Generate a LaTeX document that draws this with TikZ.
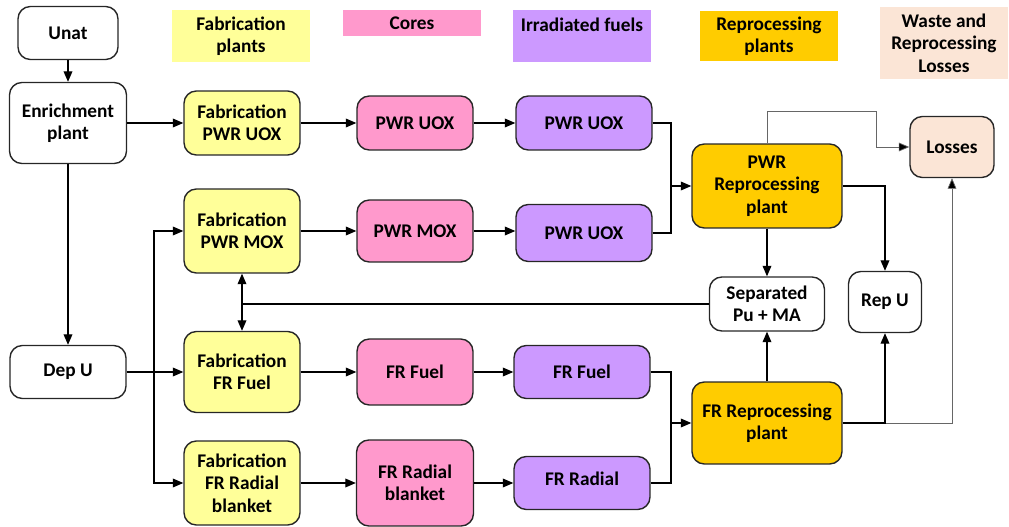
\documentclass[tikz,border=0pt]{standalone}
\usepackage{fontspec}
\setmainfont{Carlito}
\usetikzlibrary{arrows.meta}

\definecolor{fabyellow}{HTML}{FFFF99}
\definecolor{corepink}{HTML}{FF99CC}
\definecolor{irrpurple}{HTML}{CC99FF}
\definecolor{repgold}{HTML}{FFCC00}
\definecolor{losspeach}{HTML}{FBE5D6}

\tikzset{
	box/.style={draw=black!85, line width=0.8pt, rounded corners=7pt, align=center, font=\fontsize{11}{12.8}\selectfont\bfseries, inner sep=2pt},
	head/.style={align=center, font=\fontsize{11}{12.8}\selectfont\bfseries, inner sep=2pt},
	flow/.style={line width=0.7pt, -{Triangle[length=6pt,width=5pt]}},
	thinflow/.style={line width=0.4pt, draw=black!60, -{Triangle[length=6pt,width=5pt,fill=black]}}
}

\begin{document}
\begin{tikzpicture}[x=0.02cm, y=-0.02cm]
	
	\useasboundingbox (0,0) rectangle (1009,527);
	
	% column headers
	\node [head, fill=fabyellow, minimum width=2.78cm, minimum height=1.04cm] (hfab) at (241,36) {Fabrication\\plants};
	
	\node [head, fill=corepink, minimum width=2.76cm, minimum height=0.52cm] (hcore) at (412,23) {Cores};
	
	\node [head, fill=irrpurple, minimum width=2.76cm, minimum height=1.04cm] (hirr) at (582,36) {Irradiated fuels\\\mbox{}};
	
	\node [head, fill=repgold, minimum width=2.76cm, minimum height=1.02cm] (hrep) at (769,36) {Reprocessing\\plants};
	
	\node [head, fill=losspeach, minimum width=2.58cm, minimum height=1.46cm] (hloss) at (944,43) {Waste and\\Reprocessing\\Losses};
	
	% uranium supply
	\node [box, minimum width=2cm, minimum height=1.06cm] (unat) at (68,33) {Unat};
	
	\node [box, minimum width=2.34cm, minimum height=1.62cm] (enrich) at (68,123) {Enrichment\\plant};
	
	\node [box, minimum width=2.32cm, minimum height=1.06cm] (depu) at (68,372) {Dep U};
	
	% fabrication
	\node [box, fill=fabyellow, minimum width=2.32cm, minimum height=1.28cm] (fabuox) at (242,123) {Fabrication\\PWR UOX};
	
	\node [box, fill=fabyellow, minimum width=2.32cm, minimum height=1.68cm] (fabmox) at (242,231) {Fabrication\\PWR MOX};
	
	\node [box, fill=fabyellow, minimum width=2.32cm, minimum height=1.62cm] (fabfr) at (242,372) {Fabrication\\FR Fuel};
	
	\node [box, fill=fabyellow, minimum width=2.32cm, minimum height=1.68cm] (fabrad) at (242,483) {Fabrication\\FR Radial\\blanket};
	
	% cores
	\node [box, fill=corepink, minimum width=2.32cm, minimum height=1.08cm] (coreuox) at (415,123) {PWR UOX};
	
	\node [box, fill=corepink, minimum width=2.32cm, minimum height=1.24cm] (coremox) at (415,231) {PWR MOX};
	
	\node [box, fill=corepink, minimum width=2.32cm, minimum height=1.32cm] (corefr) at (415,372) {FR Fuel};
	
	\node [box, fill=corepink, minimum width=2.34cm, minimum height=1.72cm] (corerad) at (415,483) {FR Radial\\blanket};
	
	% irradiated fuels
	\node [box, fill=irrpurple, minimum width=2.72cm, minimum height=1.08cm] (irruox) at (584,123) {PWR UOX};
	
	\node [box, fill=irrpurple, minimum width=2.72cm, minimum height=1.14cm] (irrmox) at (584,233) {PWR UOX};
	
	\node [box, fill=irrpurple, minimum width=2.72cm, minimum height=1.06cm] (irrfr) at (582,372) {FR Fuel};
	
	\node [box, fill=irrpurple, minimum width=2.72cm, minimum height=1.06cm] (irrrad) at (582,483) {\raisebox{0.18cm}{FR Radial}};
	
	% reprocessing and products
	\node [box, fill=repgold, minimum width=3cm, minimum height=1.68cm] (pwrrep) at (767,186) {PWR\\Reprocessing\\plant};
	
	\node [box, fill=repgold, minimum width=3cm, minimum height=1.64cm] (frrep) at (767,423) {FR Reprocessing\\plant};
	
	\node [box, minimum width=2.3cm, minimum height=1.08cm] (seppu) at (767,304) {Separated\\Pu + MA};
	
	\node [box, minimum width=1.46cm, minimum height=1.22cm] (repu) at (885,302) {Rep U};
	
	\node [box, fill=losspeach, minimum width=1.68cm, minimum height=1.22cm] (losses) at (952,147) {Losses};
	
	\coordinate (split) at (154,372);
	\coordinate (pwrin) at (671,186);
	\coordinate (frin) at (671,423);
	\coordinate (losstop) at (876,111);
	\coordinate (mixpt) at (242,304);
	
	
	\draw [flow] (unat) -- (enrich);
	
	\draw [flow] (enrich) -- (fabuox);
	
	\draw [flow] (enrich) -- (depu);
	
	\draw [flow] (depu) -- (fabfr);
	
	\draw [flow] (split) |- (fabmox);
	
	\draw [flow] (split) |- (fabrad);
	
	\draw [flow] (fabuox) -- (coreuox);
	
	\draw [flow] (fabmox) -- (coremox);
	
	\draw [flow] (fabfr) -- (corefr);
	
	\draw [flow] (fabrad) -- (corerad);
	
	\draw [flow] (coreuox) -- (irruox);
	
	\draw [flow] (coremox) -- (coremox -| irrmox.west);
	
	\draw [flow] (corefr) -- (irrfr);
	
	\draw [flow] (corerad) -- (irrrad);
	
	\draw [line width=0.7pt] (irruox) -| (pwrin);
	
	\draw [line width=0.7pt] (irrmox) -| (pwrin);
	
	\draw [flow] (pwrin) -- (pwrrep);
	
	\draw [line width=0.7pt] (irrfr) -| (frin);
	
	\draw [line width=0.7pt] (irrrad) -| (frin);
	
	\draw [flow] (frin) -- (frrep);
	
	\draw [thinflow] (pwrrep.north) |- (losstop) |- (losses);
	
	\draw [flow] (pwrrep) -| (repu);
	
	\draw [flow] (pwrrep) -- (seppu);
	
	\draw [flow] (frrep) -- (seppu);
	
	\draw [thinflow] (frrep.east) -| (losses.south);
	
	\draw [flow] (frrep) -| (repu);
	
	\draw [line width=0.7pt] (seppu) -- (mixpt);
	
	\draw [flow] (mixpt) -- (fabmox);
	
	\draw [flow] (mixpt) -- (fabfr);
	
\end{tikzpicture}
\end{document}
